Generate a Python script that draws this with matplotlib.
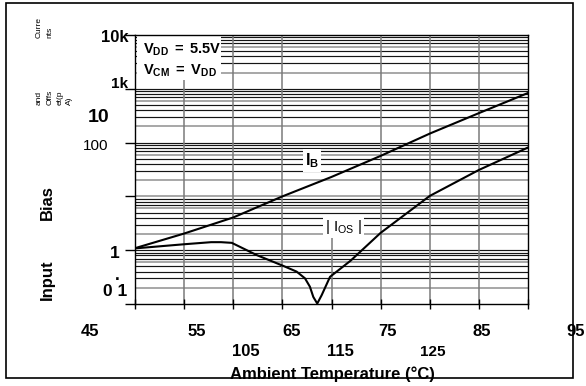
import matplotlib
matplotlib.use("Agg")
import matplotlib.pyplot as plt
from matplotlib.patches import Rectangle

plt.rcParams['font.family'] = ['Liberation Sans', 'DejaVu Sans']
plt.rcParams['mathtext.fontset'] = 'custom'
plt.rcParams['mathtext.rm'] = 'Liberation Sans'
plt.rcParams['mathtext.bf'] = 'Liberation Sans:bold'
plt.rcParams['mathtext.it'] = 'Liberation Sans:italic'

# ---------------- data ----------------
temp_ib = [45, 55, 65, 75, 85, 95, 105, 115, 125]
ib_values = [1.09, 2.04, 4.06, 10.0, 23.0, 56.6, 147, 353, 836]

temp_ios = [45, 55, 60.5, 62.5, 64.7, 69.8, 75.2, 77.9, 79.6, 80.6, 81.3,
            82.1, 83.0, 84.7, 88.9, 95, 105, 115, 125]
ios_values = [1.08, 1.29, 1.41, 1.41, 1.37, 0.81, 0.51, 0.40, 0.30, 0.21, 0.135,
              0.102, 0.146, 0.32, 0.64, 2.1, 10.2, 31, 81]

x_ticks = [45, 55, 65, 75, 85, 95, 105, 115, 125]
x_tick_labels = ['45', '55', '65', '75', '85', '95', '105', '115', '125']
y_tick_labels = ['10k', '1k', '10', '100', '1', '.', '0 1']
ylabel_words = ['Bias', 'Input']
ylabel_small = ['Curre', 'nts', 'and', 'Offs', 'et(p', 'A)']
xlabel_text = 'Ambient Temperature (\u00b0C)'
cond_lines = [r'$\mathbf{V}_{\mathbf{DD}}\mathbf{\ =\ 5.5V}$',
              r'$\mathbf{V}_{\mathbf{CM}}\mathbf{\ =\ V}_{\mathbf{DD}}$']
ib_label = r'$\mathbf{I}_{\mathbf{B}}$'
ios_label = r'$|\ \mathrm{I}_{\mathrm{OS}}\ |$'

# ---------------- layout ----------------
W, H = 586, 386
fig = plt.figure(figsize=(W / 100, H / 100), dpi=100)


def fx(px):
    return px / W


def fy(py):
    return 1 - py / H


ax = fig.add_axes([fx(135), fy(304), (528 - 135) / W, (304 - 35) / H])
ax.set_yscale('log')
ax.set_xlim(x_ticks[0], x_ticks[-1])
ax.set_ylim(0.1, 10000)

# horizontal grid (log major + minor)
for d in range(-1, 4):
    for m in range(1, 10):
        v = m * 10.0 ** d
        if v <= 0.1 or v >= 10000:
            continue
        if m in (2, 6) or v == 10:
            ax.axhline(v, color='#a0a0a0', lw=1.3, zorder=0.5)
        else:
            ax.axhline(v, color='#151515', lw=0.85, zorder=0.5)

# vertical grid
for xt in x_ticks[1:-1]:
    if xt == 85:
        ax.vlines(xt, 0.1, 2.7, color='#7a7a7a', lw=1.1, zorder=0.6)
    else:
        ax.axvline(xt, color='#7a7a7a', lw=1.1, zorder=0.6)

# white box for conditions
ax.add_patch(Rectangle((0.004, 0.833), 0.216, 0.163, transform=ax.transAxes,
                       fc='white', ec='none', zorder=1))

# curves
ax.plot(temp_ib, ib_values, color='black', lw=1.5, zorder=3)
ax.plot(temp_ios, ios_values, color='black', lw=1.5, zorder=3)

ax.text(81.0, 47, ib_label, fontsize=11.5, ha='center', va='center', zorder=4,
        bbox=dict(fc='white', ec='none', pad=1.5))
ax.text(87.4, 2.67, ios_label, fontsize=11, ha='center', va='center', zorder=4,
        bbox=dict(fc='white', ec='none', pad=1.5))

for s in ax.spines.values():
    s.set_color('black')
    s.set_linewidth(1.0)
    s.set_zorder(5)

ax.set_xticks(x_ticks)
ax.tick_params(axis='x', direction='inout', length=7, width=1, labelbottom=False)
ax.tick_params(axis='y', which='major', direction='out', length=7, width=1,
               labelleft=False)
ax.tick_params(axis='y', which='minor', length=0, labelleft=False)

# condition texts
fig.text(fx(143), fy(50), cond_lines[0], fontsize=10.5, ha='left', va='center')
fig.text(fx(143), fy(71), cond_lines[1], fontsize=10.5, ha='left', va='center')

# y tick labels (placed as in reference)
ytl_pos = [(128, 37, 'right'), (128, 84, 'right'), (99, 117, 'center'),
           (96, 146, 'center'), (115, 254, 'center'), (117, 275, 'center'),
           (115, 291, 'center')]
ytl_size = [12, 11, 14, 11, 12.5, 12.5, 12.5]
ytl_weight = ['bold', 'bold', 'bold', 'normal', 'bold', 'bold', 'bold']
narrow = ['Liberation Sans Narrow', 'Liberation Sans', 'DejaVu Sans']
for lab, (px, py, ha), sz, wt in zip(y_tick_labels, ytl_pos, ytl_size, ytl_weight):
    fam = narrow if lab in ('10k', '1k', '100') else None
    kw = dict(family=fam) if fam else {}
    fig.text(fx(px), fy(py), lab, fontsize=sz, fontweight=wt, ha=ha, va='center', **kw)

# x tick labels
xtl_pos = [(90, 332), (197, 332), (292, 332), (387, 332), (482, 332), (576, 332),
           (246, 352), (340, 352), (433, 352)]
xtl_size = [12, 12, 12, 12, 12, 12, 12, 12, 11]
for lab, (px, py), sz in zip(x_tick_labels, xtl_pos, xtl_size):
    fig.text(fx(px), fy(py), lab, fontsize=sz, fontweight='bold', ha='center', va='center')

fig.text(fx(332), fy(374), xlabel_text, fontsize=12, fontweight='bold',
         ha='center', va='center')

# y axis label words
fig.text(fx(47), fy(203), ylabel_words[0], fontsize=12, fontweight='bold',
         rotation=90, ha='center', va='center')
fig.text(fx(47), fy(280), ylabel_words[1], fontsize=12, fontweight='bold',
         rotation=90, ha='center', va='center')

small_pos = [(39.5, 38), (49.5, 38), (39.5, 105), (50, 105), (60.5, 105), (69.5, 105)]
for lab, (px, py) in zip(ylabel_small, small_pos):
    fig.text(fx(px), fy(py), lab, fontsize=6, rotation=90, ha='center', va='bottom')

# outer frame
fig.add_artist(Rectangle((fx(6), fy(378)), fx(573) - fx(6), fy(3) - fy(378),
                         transform=fig.transFigure, fill=False, ec='black',
                         lw=1.2, zorder=10))

fig.savefig('out.png', dpi=100)
